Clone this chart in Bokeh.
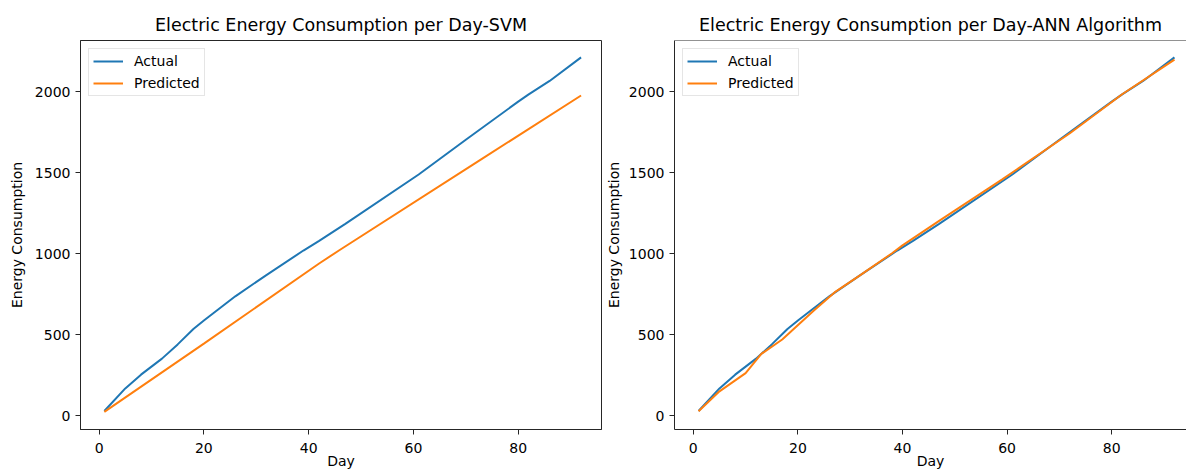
from bokeh.plotting import figure
from bokeh.models import Range1d, FixedTicker, Span
from bokeh.layouts import row
from bokeh.embed import file_html
from bokeh.resources import INLINE

# ---- data ----
days_actual = [1, 5, 8, 12, 15, 18, 20, 26, 32, 39, 42, 47, 61, 70, 80, 82, 86, 92]
actual = [28, 168, 253, 352, 440, 535, 588, 737, 870, 1020, 1080, 1185, 1490, 1705, 1940, 1985, 2068, 2214]

days_svm = [1, 20, 42, 46, 73, 92]
svm_pred = [23, 445, 940, 1025, 1585, 1978]

days_ann = [1, 5, 10, 13, 17, 23, 27, 32, 38, 40, 47, 59, 72, 82, 92]
ann_pred = [27, 150, 262, 381, 470, 648, 761, 870, 1003, 1052, 1203, 1458, 1745, 1986, 2200]

x_ticks = [0, 20, 40, 60, 80]
y_ticks = [0, 500, 1000, 1500, 2000]
series_labels = ["Actual", "Predicted"]
titles = ["Electric Energy Consumption per Day-SVM",
          "Electric Energy Consumption per Day-ANN Algorithm"]
x_label = "Day"
y_label = "Energy Consumption"

BLUE = "#1f77b4"
ORANGE = "#ff7f0e"
FONT = "DejaVu Sans"
AX = "#262626"
Y0, Y1 = -86, 2318


def style_axis(ax):
    ax.axis_line_color = AX
    ax.major_tick_line_color = AX
    ax.major_tick_out = 5
    ax.major_tick_in = 0
    ax.minor_tick_out = 0
    ax.minor_tick_in = 0
    ax.major_label_text_font = FONT
    ax.major_label_text_font_size = "14px"
    ax.major_label_text_color = "#000000"
    ax.axis_label_text_font = FONT
    ax.axis_label_text_font_size = "14px"
    ax.axis_label_text_font_style = "normal"
    ax.axis_label_text_color = "#000000"


def make_fig(title, width, x_start, x_end, b_left, b_right, pred_days, pred_vals, left_plot):
    p = figure(width=width, height=471,
               x_range=Range1d(x_start, x_end), y_range=Range1d(Y0, Y1),
               output_backend="svg", toolbar_location=None, title=title,
               min_border_left=b_left, min_border_right=b_right,
               min_border_top=40, min_border_bottom=42)
    p.title.text_font = FONT
    p.title.text_font_size = "17.5px"
    p.title.text_font_style = "normal"
    p.title.text_color = "#000000"
    p.title.align = "center"
    p.title.standoff = 12
    p.xgrid.visible = False
    p.ygrid.visible = False
    p.background_fill_color = "white"
    p.border_fill_color = "white"

    p.xaxis.ticker = FixedTicker(ticks=x_ticks)
    p.yaxis.ticker = FixedTicker(ticks=y_ticks)
    for ax in p.xaxis + p.yaxis:
        style_axis(ax)
    p.xaxis.axis_label = x_label
    p.xaxis.major_label_standoff = 8
    p.xaxis.axis_label_standoff = -3
    p.yaxis.major_label_standoff = 5
    p.yaxis.axis_label = y_label

    if left_plot:
        p.outline_line_color = AX
        p.outline_line_width = 1
        p.outline_line_alpha = 1
        p.yaxis.axis_label_standoff = 7
    else:
        p.outline_line_color = None
        p.add_layout(Span(location=Y1, dimension="width", line_color=AX, line_width=1))
        p.yaxis.axis_label_standoff = 4

    p.line(days_actual, actual, line_color=BLUE, line_width=2, legend_label=series_labels[0])
    p.line(pred_days, pred_vals, line_color=ORANGE, line_width=2, legend_label=series_labels[1])

    lg = p.legend[0]
    lg.location = "top_left"
    lg.margin = 8
    lg.padding = 4
    lg.spacing = 6
    lg.glyph_width = 30
    lg.glyph_height = 14
    lg.label_height = 14
    lg.label_standoff = 11
    lg.label_text_font = FONT
    lg.label_text_font_size = "14px"
    lg.label_text_color = "#000000"
    lg.border_line_color = "#cccccc"
    lg.border_line_width = 1
    lg.background_fill_color = "white"
    lg.background_fill_alpha = 0.8
    return p


p1 = make_fig(titles[0], 602, -3.55, 95.9, 80, 1, days_svm, svm_pred, True)
p2 = make_fig(titles[1], 584, -3.6, 94.3, 71, 0, days_ann, ann_pred, False)

layout = row(p1, p2)
open("out.html", "w").write(file_html(layout, INLINE))
